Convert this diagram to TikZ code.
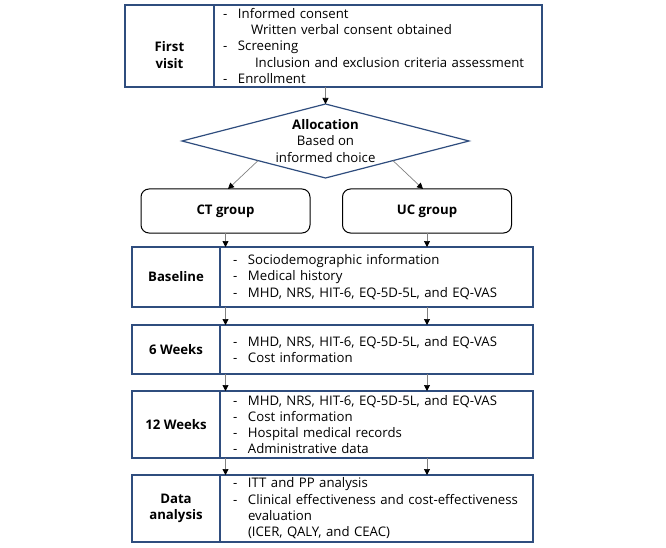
\documentclass[tikz,border=0pt]{standalone}
\usepackage{fontspec}
\setmainfont{Open Sans}
\usetikzlibrary{shapes.geometric,arrows.meta,calc}
\definecolor{bbor}{HTML}{2F4D7E}
\definecolor{agray}{HTML}{808080}
\newcommand\itm[1]{\makebox[15pt][l]{-}#1}
\newcommand\fsz{\fontsize{13.2pt}{16.3pt}\selectfont}
\begin{document}
\begin{tikzpicture}[x=1pt,y=-1pt,
  every node/.style={font=\fsz, inner sep=0pt, outer sep=0pt},
  lcell/.style={draw=bbor, line width=1.2pt, rectangle, align=center, font=\fsz\bfseries},
  rcell/.style={draw=bbor, line width=1.2pt, rectangle, align=left, anchor=west},
  grp/.style={draw=black, line width=1pt, rounded corners=8pt, minimum width=169pt, minimum height=44pt, font=\fsz\bfseries},
  arr/.style={draw=agray, line width=0.7pt, -{Triangle[length=6pt,width=6pt,color=black]}}]
\useasboundingbox (0,0) rectangle (666,548);
% First visit
\node[lcell, minimum width=89pt, minimum height=82pt] (fvL) at (169.5,46) {};
\node[font=\fsz\bfseries, align=center] (fvLt) at (169.5,55) {First\\visit};
\node[rcell, minimum width=328pt, minimum height=82pt, text width=310pt, inner xsep=9pt] (fvR) at (fvL.east) {\itm{Informed consent}\\\hspace{28pt}Written verbal consent obtained\\\itm{Screening}\\\hspace{32pt}Inclusion and exclusion criteria assessment\\\itm{Enrollment}};
% Allocation
\node[diamond, draw=bbor, line width=1.2pt, minimum width=287pt, minimum height=74pt, aspect=3.88] (alloc) at (325.5,141) {};
\node[align=center] (alloct) at (alloc.center) {\textbf{Allocation}\\Based on\\informed choice};
% Groups
\node[grp] (ct) at (225.5,211) {CT group};
\node[grp] (uc) at (427,211) {UC group};
% Baseline
\node[lcell, minimum width=88pt, minimum height=60pt] (baseL) at (176,277) {Baseline};
\node[rcell, minimum width=313pt, minimum height=60pt, text width=287pt, inner xsep=13pt] (baseR) at (baseL.east) {\itm{Sociodemographic information}\\\itm{Medical history}\\\itm{MHD, NRS, HIT-6, EQ-5D-5L, and EQ-VAS}};
% 6 weeks
\node[lcell, minimum width=88pt, minimum height=49pt] (w6L) at (176,349.5) {6 Weeks};
\node[rcell, minimum width=313pt, minimum height=49pt, text width=287pt, inner xsep=13pt] (w6R) at (w6L.east) {\itm{MHD, NRS, HIT-6, EQ-5D-5L, and EQ-VAS}\\\itm{Cost information}};
% 12 weeks
\node[lcell, minimum width=88pt, minimum height=67pt] (w12L) at (176,424.5) {12 Weeks};
\node[rcell, minimum width=313pt, minimum height=67pt, text width=287pt, inner xsep=13pt] (w12R) at (w12L.east) {\itm{MHD, NRS, HIT-6, EQ-5D-5L, and EQ-VAS}\\\itm{Cost information}\\\itm{Hospital medical records}\\\itm{Administrative data}};
% Data analysis
\node[lcell, minimum width=88pt, minimum height=67pt] (daL) at (176,508.5) {Data\\analysis};
\node[rcell, minimum width=313pt, minimum height=67pt, text width=287pt, inner xsep=13pt] (daR) at (daL.east) {\itm{ITT and PP analysis}\\\itm{Clinical effectiveness and cost-effectiveness}\\\hspace{15pt}evaluation\\\hspace{15pt}(ICER, QALY, and CEAC)};
% Arrows
\draw[arr] (alloc.north |- fvR.south) -- (alloc.north);
\draw[arr] ($(alloc.west)!0.53!(alloc.south)$) -- ([xshift=2.5pt]ct.north);
\draw[arr] ($(alloc.east)!0.53!(alloc.south)$) -- ([xshift=-4pt]uc.north);
\draw[arr] (ct.south) -- (ct.south |- baseR.north);
\draw[arr] (uc.south) -- (uc.south |- baseR.north);
\draw[arr] (ct.south |- baseR.south) -- (ct.south |- w6R.north);
\draw[arr] (uc.south |- baseR.south) -- (uc.south |- w6R.north);
\draw[arr] (ct.south |- w6R.south) -- (ct.south |- w12R.north);
\draw[arr] (uc.south |- w6R.south) -- (uc.south |- w12R.north);
\draw[arr] (ct.south |- w12R.south) -- (ct.south |- daR.north);
\draw[arr] (uc.south |- w12R.south) -- (uc.south |- daR.north);
\end{tikzpicture}
\end{document}
